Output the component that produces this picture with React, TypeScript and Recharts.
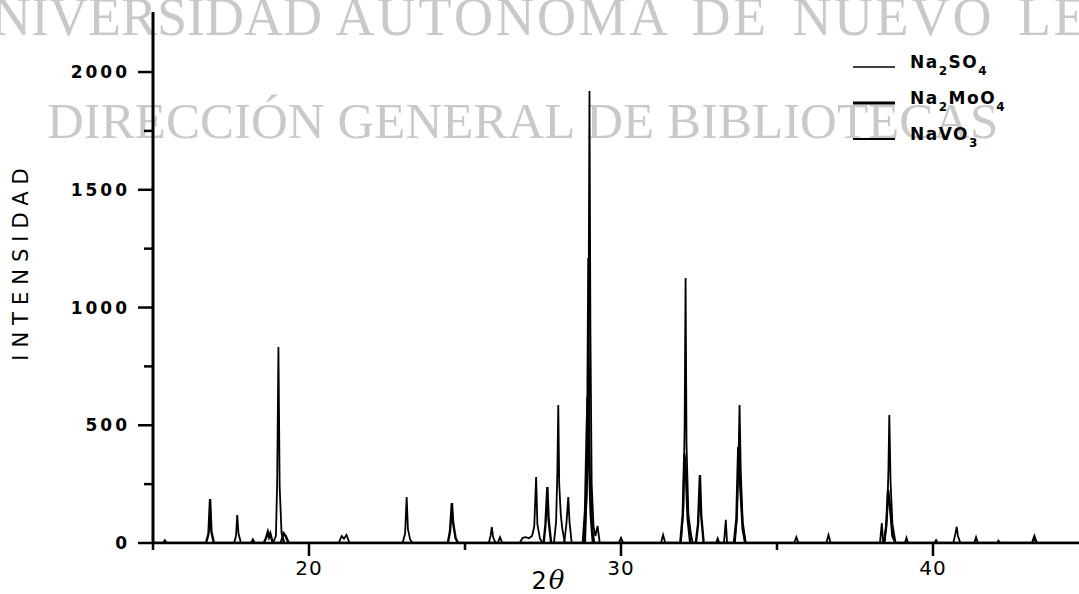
import React from "react";
import { LineChart, Line, XAxis, YAxis, Legend, Label } from "recharts";

// 2θ (degrees) / intensity pairs, one list per compound
const na2so4: [number, number][] = [
  [15.0, 0], [18.85, 0], [18.94, 30], [18.98, 260], [19.02, 832], [19.06, 240],
  [19.12, 40], [19.22, 0], [20.95, 0], [21.05, 30], [21.12, 18], [21.2, 34],
  [21.3, 0], [23.0, 0], [23.08, 40], [23.13, 195], [23.17, 60], [23.24, 15],
  [23.32, 0], [27.85, 0], [27.92, 90], [27.96, 300], [27.99, 586], [28.02, 250],
  [28.07, 120], [28.12, 60], [28.2, 0], [28.82, 0], [28.9, 200], [28.95, 1210],
  [29.0, 300], [29.08, 60], [29.15, 0], [31.92, 0], [32.0, 150], [32.04, 500],
  [32.07, 1125], [32.1, 420], [32.16, 120], [32.24, 40], [32.3, 0], [33.65, 0],
  [33.72, 120], [33.77, 380], [33.8, 586], [33.84, 300], [33.9, 90], [34.0, 0],
  [38.45, 0], [38.53, 120], [38.57, 300], [38.6, 543], [38.64, 260], [38.7, 80],
  [38.8, 0], [40.05, 0], [40.1, 12], [40.15, 0], [42.05, 0], [42.1, 10],
  [42.15, 0], [44.68, 0],
];

const na2moo4: [number, number][] = [
  [15.0, 0], [16.7, 0], [16.78, 40], [16.83, 187], [16.87, 50], [16.95, 0],
  [18.55, 0], [18.62, 20], [18.68, 47], [18.72, 25], [18.76, 40], [18.84, 0],
  [19.1, 0], [19.18, 42], [19.25, 30], [19.35, 0], [24.45, 0], [24.52, 50],
  [24.58, 170], [24.62, 85], [24.7, 20], [24.78, 0], [27.52, 0], [27.58, 80],
  [27.64, 238], [27.68, 100], [27.76, 0], [28.78, 0], [28.85, 140], [28.9, 460],
  [28.93, 620], [28.97, 380], [29.03, 120], [29.1, 0], [31.9, 0], [31.98, 120],
  [32.03, 380], [32.08, 300], [32.14, 100], [32.22, 0], [32.4, 0], [32.47, 80],
  [32.53, 289], [32.57, 120], [32.65, 0], [33.62, 0], [33.7, 100], [33.76, 408],
  [33.82, 250], [33.9, 60], [33.98, 0], [38.42, 0], [38.5, 70], [38.56, 225],
  [38.62, 160], [38.7, 30], [38.8, 0], [43.18, 0], [43.25, 27], [43.32, 0],
  [44.68, 0],
];

const navo3: [number, number][] = [
  [15.0, 0], [15.32, 0], [15.38, 12], [15.44, 0], [17.6, 0], [17.66, 30],
  [17.7, 119], [17.74, 40], [17.82, 0], [18.14, 0], [18.2, 16], [18.26, 0],
  [25.76, 0], [25.82, 30], [25.86, 68], [25.9, 25], [25.98, 0], [26.05, 0],
  [26.12, 25], [26.2, 0], [26.75, 0], [26.85, 22], [26.95, 25], [27.05, 20],
  [27.15, 30], [27.22, 70], [27.28, 280], [27.32, 80], [27.4, 20], [27.48, 0],
  [28.18, 0], [28.25, 80], [28.31, 195], [28.35, 90], [28.42, 0], [28.85, 0],
  [28.92, 300], [28.96, 960], [28.99, 1920], [29.02, 900], [29.06, 250],
  [29.12, 70], [29.18, 30], [29.25, 72], [29.32, 0], [29.93, 0], [30.0, 22],
  [30.07, 0], [31.28, 0], [31.35, 34], [31.42, 0], [33.05, 0], [33.1, 20],
  [33.15, 0], [33.3, 0], [33.36, 98], [33.4, 0], [35.55, 0], [35.62, 25],
  [35.69, 0], [36.58, 0], [36.65, 34], [36.72, 0], [38.3, 0], [38.36, 85],
  [38.4, 0], [39.1, 0], [39.15, 22], [39.2, 0], [40.65, 0], [40.72, 40],
  [40.76, 69], [40.8, 30], [40.88, 0], [41.32, 0], [41.38, 25], [41.44, 0],
  [44.68, 0],
];

const thetaTicks = [15, 20, 25, 30, 35, 40];
const thetaLabelled = [20, 30, 40];
const countTicks = [0, 250, 500, 750, 1000, 1250, 1500, 1750, 2000];
const countLabelled = [0, 500, 1000, 1500, 2000];

const series = [
  { name: "Na2SO4", data: na2so4, width: 1.8, key: 1.4 },
  { name: "Na2MoO4", data: na2moo4, width: 2.4, key: 3 },
  { name: "NaVO3", data: navo3, width: 1.8, key: 2 },
];

const toPoints = (arr: [number, number][]) => arr.map(([t, i]) => ({ t, i }));

const XTick = (props: any) => {
  const { x, y, payload } = props;
  const major = thetaLabelled.includes(payload.value);
  return (
    <g>
      <line x1={x} x2={x} y1={y} y2={y + (major ? 13 : 7)} stroke="#000" strokeWidth={2.5} />
      {major && (
        <text x={x} y={y + 32} textAnchor="middle" fontSize={20} fill="#000" letterSpacing={1}>
          {payload.value}
        </text>
      )}
    </g>
  );
};

const YTick = (props: any) => {
  const { x, y, payload } = props;
  const major = countLabelled.includes(payload.value);
  return (
    <g>
      <line x1={x - (major ? 15 : 9)} x2={x} y1={y} y2={y} stroke="#000" strokeWidth={2.5} />
      {major && (
        <text x={x - 23} y={y} dy="0.36em" textAnchor="end" fontSize={17} fontWeight="bold" fill="#000" letterSpacing={3}>
          {payload.value}
        </text>
      )}
    </g>
  );
};

// digits in the formula are drawn as subscripts
const Formula = ({ text, x, y }: { text: string; x: number; y: number }) => {
  const parts = text.match(/[A-Za-z]+|\d+/g) || [];
  let down = false;
  return (
    <text x={x} y={y} fontSize={17} fontWeight="bold" fill="#000" letterSpacing={1.5}>
      {parts.map((p, k) => {
        const isSub = /\d/.test(p);
        const dy = isSub ? (down ? 0 : 7) : down ? -7 : 0;
        down = isSub;
        return (
          <tspan key={k} dy={dy} fontSize={isSub ? 12 : 17}>
            {p}
          </tspan>
        );
      })}
    </text>
  );
};

const renderLegend = () => (
  <svg width={239} height={112}>
    {series.map((s, k) => {
      const base = 20 + k * 36;
      return (
        <g key={s.name}>
          <line x1={13} x2={55} y1={base - 1} y2={base - 1} stroke="#000" strokeWidth={s.key} />
          <Formula text={s.name} x={70} y={base} />
        </g>
      );
    })}
  </svg>
);

export default function App() {
  return (
    <div
      style={{
        position: "absolute",
        left: 0,
        top: 0,
        width: 1079,
        height: 594,
        background: "#fff",
        overflow: "hidden",
        fontFamily: "'DejaVu Sans', sans-serif",
      }}
    >
      <svg width={1079} height={594} style={{ position: "absolute", left: 0, top: 0 }}>
        <g fontFamily="'Liberation Serif', serif" fill="#c9c9c9">
          <text x={-47} y={35} fontSize={54}>
            <tspan>UNIVERSIDAD </tspan>
            <tspan letterSpacing={2.5} wordSpacing={8}>
              AUTÓNOMA DE NUEVO LEÓN
            </tspan>
          </text>
          <text x={47} y={138} fontSize={51}>
            DIRECCIÓN GENERAL DE BIBLIOTECAS
          </text>
        </g>
      </svg>
      <div style={{ position: "absolute", left: 0, top: 0 }}>
        <LineChart width={1079} height={594} margin={{ top: 12, right: 0, bottom: 0, left: 0 }}>
          <XAxis
            xAxisId="top"
            orientation="top"
            type="number"
            domain={[15, 44.68]}
            allowDataOverflow
            height={0}
            tick={false}
            tickLine={false}
            axisLine={{ stroke: "#000", strokeWidth: 3 }}
          />
          <XAxis
            type="number"
            dataKey="t"
            domain={[15, 44.68]}
            allowDataOverflow
            ticks={thetaTicks}
            interval={0}
            height={51}
            tickSize={0}
            tickMargin={0}
            tickLine={false}
            tick={<XTick />}
            axisLine={{ stroke: "#000", strokeWidth: 2.5 }}
          >
            <Label
              content={() => (
                <text x={548} y={589} textAnchor="middle" fill="#000">
                  <tspan fontSize={24}>2</tspan>
                  <tspan fontSize={26} fontStyle="italic" fontFamily="'DejaVu Serif', serif" dx={2}>
                    θ
                  </tspan>
                </text>
              )}
            />
          </XAxis>
          <YAxis
            type="number"
            domain={[0, 2255]}
            allowDataOverflow
            ticks={countTicks}
            interval={0}
            width={153}
            tickSize={0}
            tickMargin={0}
            tickLine={false}
            tick={<YTick />}
            axisLine={{ stroke: "#000", strokeWidth: 3 }}
          >
            <Label
              content={() => (
                <text
                  x={21}
                  y={261}
                  transform="rotate(-90, 21, 261)"
                  textAnchor="middle"
                  dominantBaseline="central"
                  fontSize={21}
                  letterSpacing={7}
                  fill="#000"
                >
                  INTENSIDAD
                </text>
              )}
            />
          </YAxis>
          <Legend
            layout="vertical"
            align="center"
            verticalAlign="middle"
            wrapperStyle={{ left: 840, top: 48, width: 239 }}
            content={renderLegend}
          />
          {series.map((s) => (
            <Line
              key={s.name}
              name={s.name}
              data={toPoints(s.data)}
              dataKey="i"
              type="linear"
              stroke="#000"
              strokeWidth={s.width}
              dot={false}
              activeDot={false}
              isAnimationActive={false}
            />
          ))}
        </LineChart>
      </div>
    </div>
  );
}
